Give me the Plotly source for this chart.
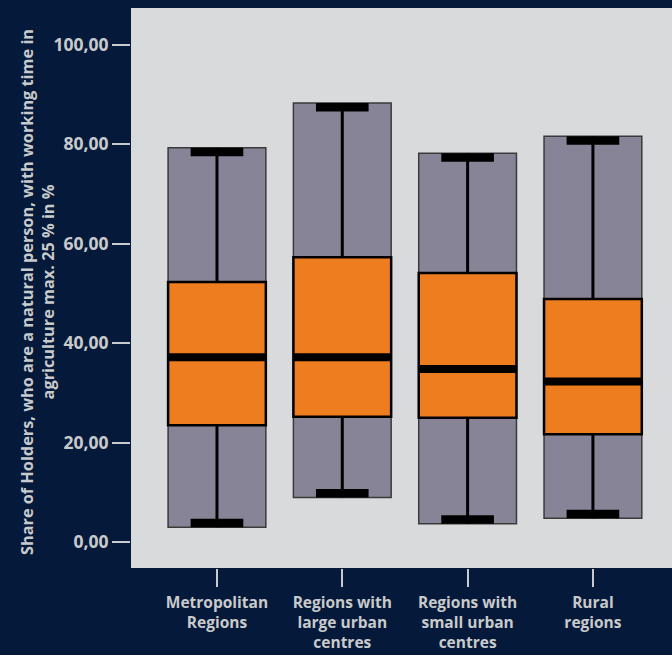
import plotly.graph_objects as go

categories = ["Metropolitan<br>Regions", "Regions with<br>large urban<br>centres",
              "Regions with<br>small urban<br>centres", "Rural<br>regions"]
minimum = [3.0, 9.0, 3.7, 4.8]
q1 = [23.5, 25.2, 25.0, 21.7]
median = [37.2, 37.2, 34.8, 32.3]
q3 = [52.3, 57.3, 54.1, 48.9]
maximum = [79.3, 88.3, 78.2, 81.6]
y_ticks = [0, 20, 40, 60, 80, 100]
y_title = "Share of Holders, who are a natural person, with working time in<br>agriculture max. 25 % in %"

BOX_W = 0.78
CAP_W = 0.42
CAP_T = 1.7
GRAY = "#888497"
ORANGE = "#EE7D1F"
TXT = "#C9CACC"
BG = "#051A3A"
FONT = "Open Sans"

xs = list(range(len(categories)))
fig = go.Figure()

# full range box
fig.add_trace(go.Bar(x=xs, y=[mx - mn for mx, mn in zip(maximum, minimum)], base=minimum,
                     width=BOX_W, marker=dict(color=GRAY, line=dict(color="#3a3a3a", width=1.5)),
                     hoverinfo="skip"))

# whiskers
for i in xs:
    fig.add_trace(go.Scatter(x=[i, i, None, i, i], y=[minimum[i], q1[i], None, q3[i], maximum[i]],
                             mode="lines", line=dict(color="black", width=3), hoverinfo="skip"))

# caps
fig.add_trace(go.Bar(x=xs, y=[CAP_T] * 4, base=[m - CAP_T for m in maximum], width=CAP_W,
                     marker=dict(color="black", line=dict(width=0)), hoverinfo="skip"))
fig.add_trace(go.Bar(x=xs, y=[CAP_T] * 4, base=minimum, width=CAP_W,
                     marker=dict(color="black", line=dict(width=0)), hoverinfo="skip"))

# IQR box
fig.add_trace(go.Bar(x=xs, y=[b - a for a, b in zip(q1, q3)], base=q1, width=BOX_W,
                     marker=dict(color=ORANGE, line=dict(color="black", width=2.5)),
                     hoverinfo="skip"))

# median
for i in xs:
    fig.add_trace(go.Scatter(x=[i - BOX_W / 2, i + BOX_W / 2], y=[median[i], median[i]],
                             mode="lines", line=dict(color="black", width=8), hoverinfo="skip"))

fig.update_layout(
    width=672, height=655,
    barmode="overlay",
    showlegend=False,
    paper_bgcolor=BG,
    plot_bgcolor="#D9DADC",
    margin=dict(l=131, r=0, t=8, b=87),
    separators=",.",
    font=dict(family=FONT, color=TXT),
    annotations=[dict(text=y_title, xref="paper", yref="paper", x=0, y=0.5,
                      xshift=-94, yshift=-4, xanchor="center", yanchor="middle",
                      textangle=-90, showarrow=False, align="center",
                      font=dict(size=16.3, family=FONT, color=TXT, weight="bold"))],
)
fig.update_xaxes(
    range=[-0.686, 3.631], tickvals=xs, ticktext=categories,
    ticks="outside", ticklen=18, tickwidth=2, tickcolor=TXT,
    tickfont=dict(size=15.5, family=FONT, color=TXT, weight="bold"),
    ticklabelstandoff=2, automargin=False,
    showgrid=False, zeroline=False, showline=False,
)
fig.update_yaxes(
    range=[-5.2, 107.4], tickvals=y_ticks, tickformat=".2f",
    ticks="outside", ticklen=18, tickwidth=2, tickcolor=TXT,
    tickfont=dict(size=17.5, family=FONT, color=TXT, weight="bold"),
    automargin=False,
    showgrid=False, zeroline=False, showline=False,
)
fig.write_html("out.html", config={"displayModeBar": False},
               post_script="document.body.style.margin='0';document.body.style.background='%s';" % BG)
